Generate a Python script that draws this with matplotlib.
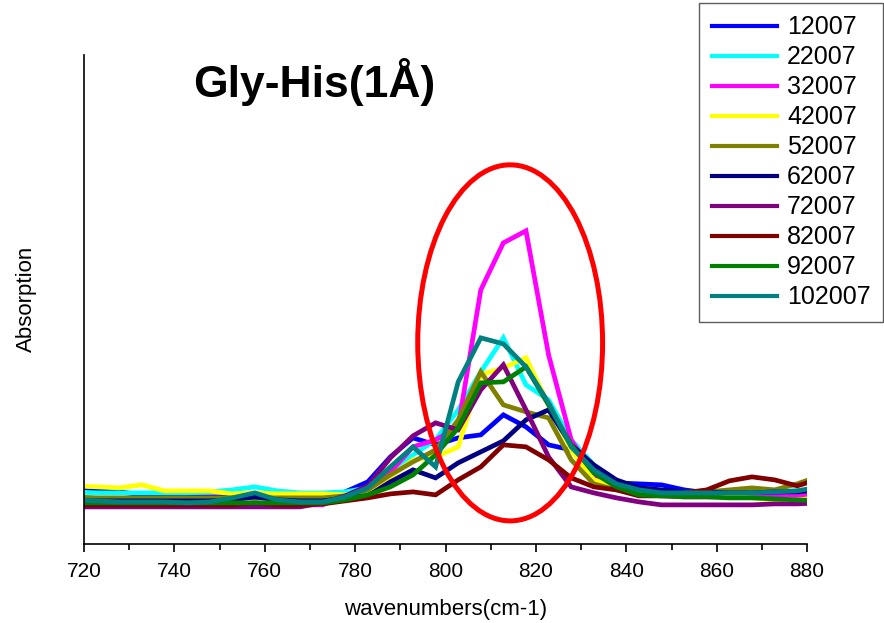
import matplotlib
matplotlib.use("Agg")
import matplotlib.pyplot as plt
from matplotlib.patches import Ellipse
from matplotlib.ticker import MultipleLocator

plt.rcParams['font.family'] = ['Liberation Sans', 'DejaVu Sans']

# wavenumbers (cm-1) of the sampled spectrum points
wavenumbers = [717.8, 722.8, 727.8, 732.8, 737.8, 742.8, 747.8, 752.8, 757.8, 762.8,
               767.8, 772.8, 777.8, 782.8, 787.8, 792.8, 797.8, 802.8, 807.8, 812.8,
               817.8, 822.8, 827.8, 832.8, 837.8, 842.8, 847.8, 852.8, 857.8, 862.8,
               867.8, 872.8, 877.8, 882.8]

# absorption (arbitrary units)
s12007 = [54, 53, 52, 49, 47, 47, 47, 47, 48, 46, 45, 46, 52, 62, 87, 106, 99, 106, 109, 129,
          117, 99, 94, 74, 61, 60, 59, 54, 51, 50, 49, 50, 52, 56]
s22007 = [52, 51, 51, 51, 51, 51, 52, 54, 57, 53, 51, 51, 52, 56, 74, 89, 104, 134, 172, 206,
          159, 144, 104, 79, 57, 54, 50, 50, 51, 51, 52, 52, 53, 54]
s32007 = [39, 39, 39, 39, 39, 39, 39, 39, 39, 39, 39, 39, 48, 54, 72, 97, 104, 117, 254, 301,
          313, 189, 104, 69, 56, 51, 48, 47, 47, 47, 47, 47, 48, 49]
s42007 = [58, 57, 56, 59, 53, 53, 53, 50, 51, 50, 50, 50, 49, 54, 67, 84, 87, 97, 169, 176,
          186, 139, 94, 64, 57, 54, 51, 49, 49, 48, 46, 44, 44, 46]
s52007 = [47, 46, 46, 46, 46, 46, 46, 46, 46, 46, 46, 46, 48, 54, 69, 82, 94, 124, 172, 139,
          132, 126, 84, 60, 54, 52, 52, 52, 52, 54, 56, 54, 60, 68]
s62007 = [43, 43, 43, 43, 43, 43, 43, 44, 47, 44, 43, 43, 46, 48, 62, 74, 66, 81, 92, 103,
          124, 134, 99, 79, 64, 56, 54, 52, 52, 51, 51, 52, 52, 54]
s72007 = [37, 37, 37, 37, 37, 37, 37, 37, 37, 37, 37, 41, 48, 58, 86, 108, 121, 114, 154, 179,
          134, 87, 57, 51, 46, 42, 39, 39, 39, 39, 39, 40, 40, 41]
s82007 = [39, 39, 39, 39, 39, 39, 39, 39, 41, 39, 39, 40, 43, 46, 50, 52, 49, 64, 77, 99,
          97, 84, 66, 57, 54, 48, 48, 51, 54, 63, 67, 64, 58, 65]
s92007 = [41, 41, 41, 41, 41, 41, 41, 41, 41, 41, 41, 41, 44, 49, 57, 69, 89, 116, 161, 162,
          177, 139, 99, 71, 57, 49, 48, 47, 47, 46, 46, 45, 44, 43]
s102007 = [44, 43, 42, 42, 42, 41, 42, 46, 51, 44, 42, 42, 47, 56, 77, 97, 77, 162, 206, 200,
           177, 141, 97, 74, 60, 54, 51, 51, 51, 51, 51, 52, 53, 57]

labels = ["12007", "22007", "32007", "42007", "52007",
          "62007", "72007", "82007", "92007", "102007"]
series = [s12007, s22007, s32007, s42007, s52007,
          s62007, s72007, s82007, s92007, s102007]
colors = ["#0000FF", "#00FFFF", "#FF00FF", "#FFFF00", "#808000",
          "#000080", "#800080", "#800000", "#008000", "#008080"]

fig = plt.figure(figsize=(8.84, 6.23), dpi=100)
ax = fig.add_axes([0.095, 0.127, 0.818, 0.785])

for lab, ys, c in zip(labels, series, colors):
    ax.plot(wavenumbers, ys, color=c, lw=3.4, label=lab, solid_joinstyle='miter')

# red ellipse highlighting the band around 815 cm-1
ax.add_patch(Ellipse((814.3, 201), 40.9, 356, fill=False, edgecolor='#FF0000', lw=3.6, zorder=5))

ax.set_xlim(720, 880)
ax.set_ylim(0, 489)
ax.xaxis.set_major_locator(MultipleLocator(20))
ax.xaxis.set_minor_locator(MultipleLocator(10))
ax.set_yticks([])
ax.spines['top'].set_visible(False)
ax.spines['right'].set_visible(False)
ax.spines['left'].set_linewidth(1.2)
ax.spines['bottom'].set_linewidth(1.2)
ax.tick_params(axis='x', which='major', length=6, width=1.2, labelsize=15, pad=7)
ax.tick_params(axis='x', which='minor', length=4, width=1.2)

ax.set_xlabel("wavenumbers(cm-1)", fontsize=16, labelpad=13)
ax.set_ylabel("Absorption", fontsize=16, labelpad=34)

fig.text(0.219, 0.868, "Gly-His(1Å)", fontsize=32, fontweight='bold', ha='left', va='center')

leg = ax.legend(loc='upper right', bbox_to_anchor=(883 / 884, 1 - 3 / 623),
                bbox_transform=fig.transFigure, fontsize=18, frameon=True, fancybox=False,
                edgecolor='#333333', handlelength=2.6, labelspacing=0.24,
                handletextpad=0.4, borderaxespad=0, borderpad=0.5)
leg.get_frame().set_linewidth(1.0)
for h in leg.get_lines():
    h.set_linewidth(3.0)

fig.savefig("out.png", dpi=100)
